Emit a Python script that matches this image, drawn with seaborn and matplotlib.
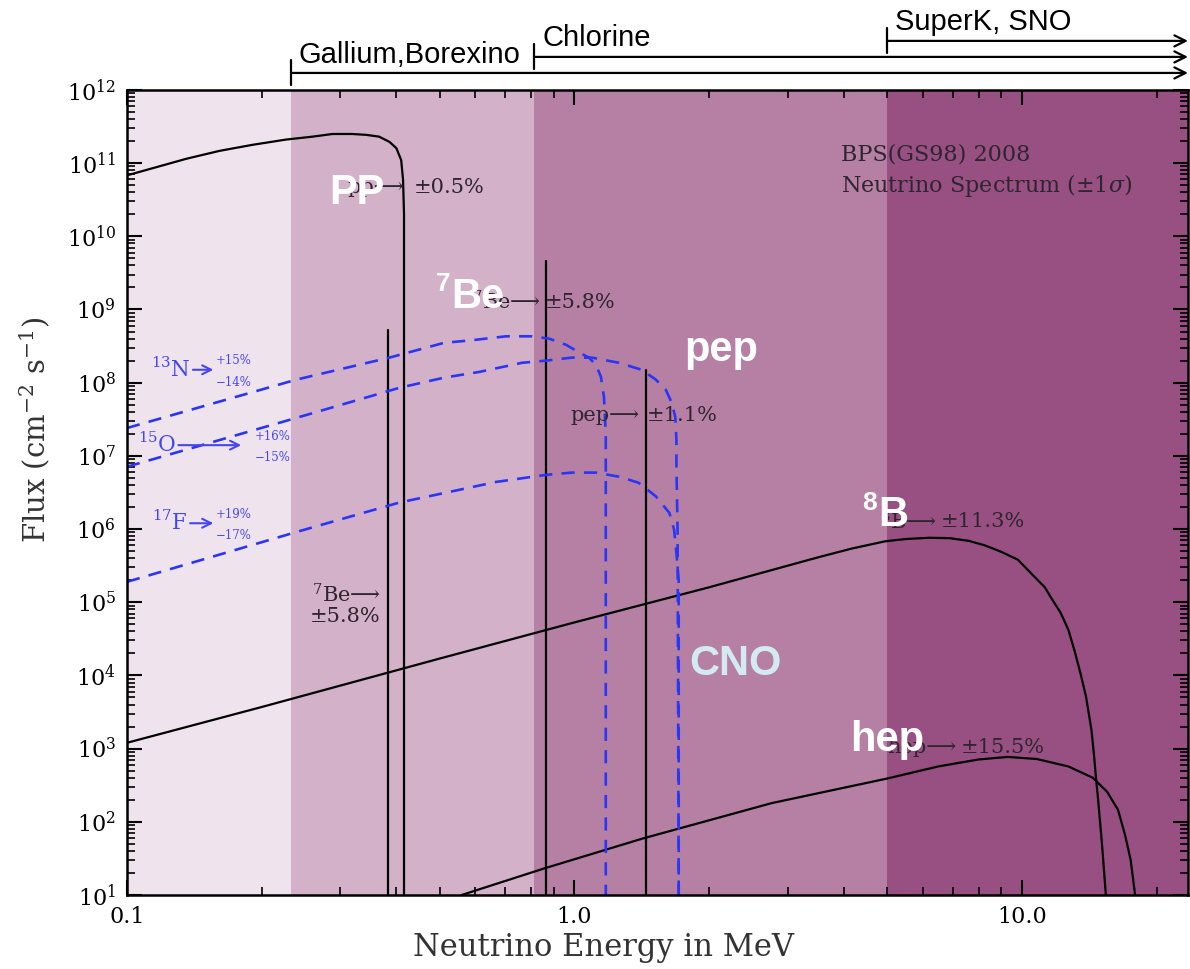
import numpy as np
import pandas as pd
import matplotlib
matplotlib.use("Agg")
import matplotlib.pyplot as plt
import matplotlib.ticker as mticker
from matplotlib.patches import ArrowStyle
import seaborn as sns

# ---- data (energy in MeV, flux in cm^-2 s^-1) ----
band_edges = [0.1, 0.233, 0.814, 5.0, 23.5]
band_colors = ["#efe4ee", "#d3b1c8", "#b580a3", "#985082"]

pp_E = [0.1, 0.114, 0.136, 0.161, 0.191, 0.227, 0.260, 0.288, 0.319, 0.343, 0.366,
        0.386, 0.400, 0.410, 0.414, 0.416, 0.416]
pp_F = [6.8e10, 8.5e10, 1.15e11, 1.47e11, 1.78e11, 2.1e11, 2.3e11, 2.5e11, 2.5e11, 2.43e11,
        2.3e11, 1.95e11, 1.6e11, 1.1e11, 5.9e10, 2e10, 10]

b8_E = [0.1, 0.2, 0.5, 1.0, 2.0, 3.5, 4.16, 4.95, 5.5, 6.2, 6.9, 7.6, 8.25, 8.98, 9.8, 10.47,
        11.25, 11.6, 12.2, 12.7, 13.1, 13.5, 13.9, 14.3, 14.5, 14.6, 14.8, 15.1, 15.4]
b8_F = [1.2e3, 3.7e3, 1.7e4, 5.3e4, 1.6e5, 4.1e5, 5.4e5, 6.8e5, 7.3e5, 7.6e5, 7.5e5, 6.9e5,
        6.0e5, 4.9e5, 3.8e5, 2.5e5, 1.6e5, 1.17e5, 7.2e4, 4.2e4, 2.2e4, 1.1e4, 5.2e3, 1.8e3,
        7.8e2, 4.7e2, 200, 49, 10]

hep_E = [0.56, 0.855, 1.42, 2.76, 5.0, 6.5, 8.0, 9.3, 10.8, 12.7, 14.4, 15.5, 16.4, 17.0,
         17.5, 17.9]
hep_F = [10, 23, 59, 180, 390, 570, 710, 770, 720, 570, 400, 257, 145, 66, 30, 10]

line_E = [0.384, 0.862, 1.442]          # 7Be, 7Be, pep
line_top = [5.2e8, 4.6e9, 1.5e8]

n13_E = [0.1, 0.239, 0.386, 0.511, 0.590, 0.703, 0.804, 0.877, 0.957, 1.023, 1.077, 1.117,
         1.146, 1.164, 1.175, 1.175]
n13_F = [2.4e7, 1.1e8, 2.2e8, 3.5e8, 3.8e8, 4.3e8, 4.3e8, 4.0e8, 3.3e8, 2.6e8, 2.2e8, 1.75e8,
         1.2e8, 6.4e7, 2.0e7, 10]

o15_E = [0.1, 0.239, 0.406, 0.511, 0.612, 0.764, 0.864, 0.987, 1.094, 1.256, 1.413, 1.52,
         1.60, 1.65, 1.68, 1.69, 1.69, 1.70, 1.71]
o15_F = [7.1e6, 3.3e7, 8.5e7, 1.17e8, 1.4e8, 1.87e8, 2.0e8, 2.2e8, 2.2e8, 1.87e8, 1.5e8,
         1.1e8, 8e7, 5.3e7, 3.4e7, 1.65e7, 7e6, 1e6, 10]

f17_E = [0.1, 0.239, 0.406, 0.511, 0.668, 0.864, 0.987, 1.117, 1.256, 1.39, 1.52, 1.63,
         1.67, 1.69, 1.71, 1.71]
f17_F = [1.9e5, 9.1e5, 2.3e6, 3.1e6, 4.4e6, 5.5e6, 5.9e6, 5.9e6, 5.2e6, 4.3e6, 2.8e6,
         1.66e6, 9.8e5, 4.7e5, 2.0e5, 10]

# ---- build long tables ----
rows = []
for name, E, F in [("pp", pp_E, pp_F), ("8B", b8_E, b8_F), ("hep", hep_E, hep_F)]:
    rows += [(name, e, f) for e, f in zip(E, F)]
for i, (e, top) in enumerate(zip(line_E, line_top)):
    rows += [("line%d" % i, e, 10), ("line%d" % i, e, top)]
solid = pd.DataFrame(rows, columns=["src", "E", "flux"])

rows = []
for name, E, F in [("13N", n13_E, n13_F), ("15O", o15_E, o15_F), ("17F", f17_E, f17_F)]:
    rows += [(name, e, f) for e, f in zip(E, F)]
cno = pd.DataFrame(rows, columns=["src", "E", "flux"])

# ---- figure ----
sns.set_theme(style="ticks")
plt.rcParams["font.family"] = ["DejaVu Serif", "DejaVu Sans"]
plt.rcParams["mathtext.fontset"] = "dejavuserif"

fig = plt.figure(figsize=(11.9, 9.69), dpi=100)
ax = fig.add_axes([0.1067, 0.0764, 0.8916, 0.8308])

for lo, hi, c in zip(band_edges[:-1], band_edges[1:], band_colors):
    ax.axvspan(lo, hi, color=c, lw=0, zorder=0)

sns.lineplot(data=solid, x="E", y="flux", units="src", estimator=None, sort=False,
             color="black", linewidth=1.6, ax=ax, legend=False)
n0 = len(ax.lines)
sns.lineplot(data=cno, x="E", y="flux", units="src", estimator=None, sort=False,
             color="#2b35f5", linewidth=1.9, ax=ax, legend=False)
for ln in ax.lines[n0:]:
    ln.set_dashes([5, 3.5])

ax.set_xscale("log")
ax.set_yscale("log")
ax.set_xlim(band_edges[0], band_edges[-1])
ax.set_ylim(10, 1e12)

# ticks
ax.xaxis.set_major_locator(mticker.FixedLocator([0.1, 1.0, 10.0]))
ax.xaxis.set_major_formatter(mticker.FixedFormatter(["0.1", "1.0", "10.0"]))
ax.xaxis.set_minor_locator(mticker.LogLocator(base=10, subs=np.arange(2, 10), numticks=20))
ax.xaxis.set_minor_formatter(mticker.NullFormatter())
ax.yaxis.set_major_locator(mticker.LogLocator(base=10, numticks=20))
ax.yaxis.set_major_formatter(mticker.FuncFormatter(lambda v, p: r"$10^{%d}$" % round(np.log10(v))))
ax.yaxis.set_minor_locator(mticker.LogLocator(base=10, subs=np.arange(2, 10), numticks=20))
ax.yaxis.set_minor_formatter(mticker.NullFormatter())
ax.tick_params(which="both", direction="in", top=True, right=True, colors="black")
ax.tick_params(which="major", length=11, width=1.5, labelsize=16, pad=8)
ax.tick_params(which="minor", length=6, width=1.2)
for s in ax.spines.values():
    s.set_linewidth(1.8)
    s.set_color("black")

ax.set_xlabel("Neutrino Energy in MeV", fontsize=22, color="#333333")
ax.xaxis.set_label_coords(0.449, -0.046)
ax.set_ylabel(r"Flux (cm$^{-2}$ s$^{-1}$)", fontsize=21, color="#333333")
ax.yaxis.set_label_coords(-0.071, 0.578)

# ---- dark annotations ----
dark = "#2e2530"
ann = dict(fontsize=15, color=dark, va="center")
ax.text(0.415, 4.7e10, "pp⟶", ha="right", **ann)
ax.text(0.438, 4.7e10, "±0.5%", ha="left", **ann)
ax.text(0.842, 1.26e9, r"$^{7}$Be⟶", ha="right", **ann)
ax.text(0.86, 1.26e9, "±5.8%", ha="left", **ann)
ax.text(1.40, 3.6e7, "pep⟶", ha="right", **ann)
ax.text(1.45, 3.6e7, "±1.1%", ha="left", **ann)
ax.text(6.43, 1.26e6, r"$^{8}$B⟶", ha="right", **ann)
ax.text(6.58, 1.26e6, "±11.3%", ha="left", **ann)
ax.text(7.13, 1.05e3, "hep⟶", ha="right", **ann)
ax.text(7.3, 1.05e3, "±15.5%", ha="left", **ann)
ax.text(0.37, 1.26e5, r"$^{7}$Be⟶", ha="right", **ann)
ax.text(0.368, 6.3e4, "±5.8%", ha="right", **ann)

ax.text(3.95, 1.3e11, "BPS(GS98) 2008", ha="left", va="center", fontsize=16, color=dark)
ax.text(3.95, 5.0e10, r"Neutrino Spectrum ($\pm 1\sigma$)", ha="left", va="center",
        fontsize=16, color=dark)

# ---- blue CNO annotations ----
blue = "#4646f0"
cno_labels = [r"$^{13}$N", r"$^{15}$O", r"$^{17}$F"]
cno_label_end = [0.139, 0.129, 0.137]
cno_arrow_tip = [0.156, 0.18, 0.156]
cno_label_y = [1.5e8, 1.4e7, 1.2e6]
cno_up = ["+15%", "+16%", "+19%"]
cno_lo = ["−14%", "−15%", "−17%"]
cno_pct_x = [0.158, 0.193, 0.158]
for lab, lx, tip, y, up, lo, px in zip(cno_labels, cno_label_end, cno_arrow_tip, cno_label_y,
                                       cno_up, cno_lo, cno_pct_x):
    ax.text(lx, y, lab, ha="right", va="center", fontsize=15.5, color=blue)
    ax.annotate("", xy=(tip, y), xytext=(lx * 1.01, y),
                arrowprops=dict(arrowstyle="->", color=blue, lw=1.5, mutation_scale=16,
                                shrinkA=0, shrinkB=0))
    ax.text(px, y * 1.32, up, ha="left", va="center", fontsize=8.5, color=blue)
    ax.text(px, y * 0.68, lo, ha="left", va="center", fontsize=8.5, color=blue)

# ---- big white labels ----
big = dict(fontsize=30, fontweight="bold", family="Liberation Sans", va="center")
ax.text(0.326, 3.9e10, "PP", ha="center", color="white", **big)
ax.text(0.531, 1.5e9, "Be", ha="left", color="white", **big)
ax.annotate("7", (0.531, 1.5e9), xytext=(-1, 9), textcoords="offset points", ha="right",
            va="center", fontsize=19, fontweight="bold", family="Liberation Sans", color="white")
ax.text(2.13, 2.8e8, "pep", ha="center", color="white", **big)
ax.text(2.29, 1.45e4, "CNO", ha="center", color="#d3eaf0", **big)
ax.text(4.77, 1.55e6, "B", ha="left", color="white", **big)
ax.annotate("8", (4.77, 1.55e6), xytext=(-1, 9), textcoords="offset points", ha="right",
            va="center", fontsize=19, fontweight="bold", family="Liberation Sans", color="white")
ax.text(4.14, 1.3e3, "hep", ha="left", color="white", **big)

# ---- detector thresholds above the axes ----
detectors = ["Gallium,Borexino", "Chlorine", "SuperK, SNO"]
det_start = [0.233, 0.814, 5.0]
arrow_y = [1.0211, 1.0410, 1.0609]
label_y = [1.0435, 1.0646, 1.0845]
for name, e0, ya, yl in zip(detectors, det_start, arrow_y, label_y):
    ax.annotate("", xy=(band_edges[-1], ya), xytext=(e0, ya),
                xycoords=("data", "axes fraction"), textcoords=("data", "axes fraction"),
                annotation_clip=False,
                arrowprops=dict(arrowstyle=ArrowStyle("]->", widthA=0.45, lengthA=0.0),
                                mutation_scale=20, lw=1.6, color="black",
                                shrinkA=0, shrinkB=0))
    ax.text(e0 * 1.04, yl, name, transform=ax.get_xaxis_transform(), ha="left",
            va="center", fontsize=21, family="Liberation Sans", color="black", clip_on=False)

fig.savefig("out.png", dpi=100)
